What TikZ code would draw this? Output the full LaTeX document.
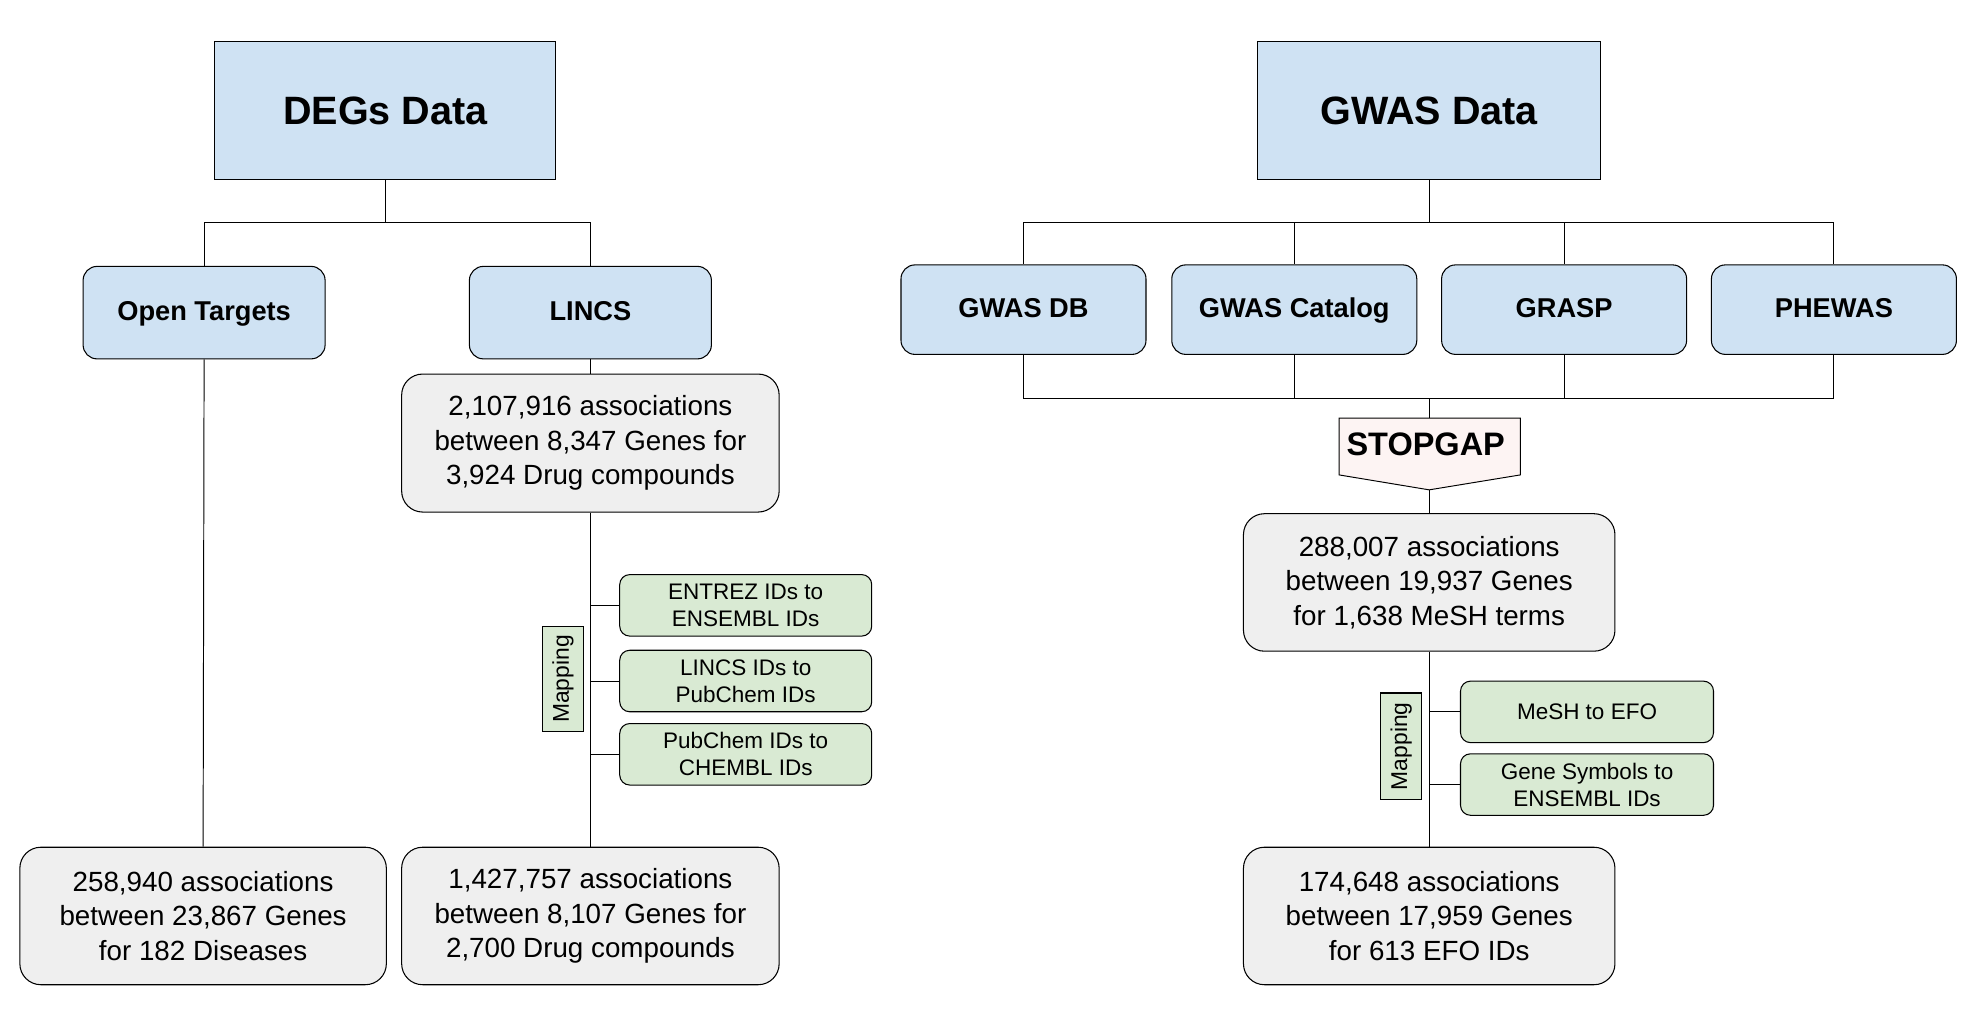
\documentclass[tikz,border=0pt]{standalone}
\usepackage{fontspec}
\setmainfont{Liberation Sans}
\usetikzlibrary{positioning}

\definecolor{azul}{HTML}{CFE2F3}
\definecolor{gris}{HTML}{EFEFEF}
\definecolor{verde}{HTML}{D9EAD3}
\definecolor{rosa}{HTML}{FDF4F3}

\tikzset{
  caja/.style={draw, line width=0.6pt, align=center, inner sep=2pt},
  titulo/.style={caja, fill=azul, font=\bfseries\fontsize{22.5}{27}\selectfont},
  fuente/.style={draw, line width=0.6pt, inner sep=2pt, fill=azul, rounded corners=0.28cm,
    text height=1.05em, text depth=0.21em, font=\bfseries\fontsize{15.5}{19}\selectfont},
  datos/.style={caja, fill=gris, rounded corners=0.42cm, font=\fontsize{15.8}{19.6}\selectfont},
  mapa/.style={caja, fill=verde, rounded corners=0.2cm, font=\fontsize{12.8}{15.3}\selectfont},
  etiqueta/.style={caja, fill=verde, rotate=90, inner sep=1pt, font=\fontsize{13}{15}\selectfont},
  linea/.style={line width=0.55pt}
}

\begin{document}
\begin{tikzpicture}[x=0.01991cm, y=-0.01992cm]
  \useasboundingbox (0,0) rectangle (39.56cm,-20.48cm);

  % Lado DEGs
  \node[titulo, minimum width=6.82cm, minimum height=2.75cm] (degs) at (387,111) {DEGs Data};
  \node[fuente, minimum width=4.84cm, minimum height=1.85cm] (ot) at (205,314) {Open Targets};
  \node[fuente, minimum width=4.84cm, minimum height=1.85cm] (lincs) at (593,314) {LINCS};
  \node[datos, minimum width=7.55cm, minimum height=2.76cm] (lincsraw) at (593,445)
    {2,107,916 associations\\between 8,347 Genes for\\3,924 Drug compounds};
  \node[mapa, minimum width=5.04cm, minimum height=1.23cm] (entrez) at (749,608) {ENTREZ IDs to\\ENSEMBL IDs};
  \node[mapa, minimum width=5.04cm, minimum height=1.23cm] (lincsid) at (749,684) {LINCS IDs to\\PubChem IDs};
  \node[mapa, minimum width=5.04cm, minimum height=1.23cm] (pubchem) at (749,757.6) {PubChem IDs to\\CHEMBL IDs};
  \node[etiqueta, minimum width=2.11cm, minimum height=0.82cm] (mapizq) at (565.5,682) {Mapping};
  \node[datos, minimum width=7.33cm, minimum height=2.75cm] (otres) at (204,920)
    {258,940 associations\\between 23,867 Genes\\for 182 Diseases};
  \node[datos, minimum width=7.55cm, minimum height=2.75cm] (lincsres) at (593,920)
    {1,427,757 associations\\between 8,107 Genes for\\2,700 Drug compounds};

  % Conexiones DEGs
  \coordinate (busdegs) at (387,223);
  \draw[linea] (degs.south) -- (busdegs);
  \draw[linea] (ot.north) -- (ot.north |- busdegs) -- (lincs.north |- busdegs) -- (lincs.north);
  \draw[linea] (ot.south) -- (otres.north);
  \draw[linea] (lincs.south) -- (lincsraw.north);
  \draw[linea] (lincsraw.south) -- (lincsres.north);
  \foreach \m in {entrez, lincsid, pubchem}
    \draw[linea] (\m.west) -- (\m.west -| lincsraw.south);

  % Lado GWAS
  \node[titulo, minimum width=6.87cm, minimum height=2.75cm] (gwas) at (1435.5,111) {GWAS Data};
  \node[fuente, minimum width=4.9cm, minimum height=1.79cm] (gwasdb) at (1028,311) {GWAS DB};
  \node[fuente, minimum width=4.9cm, minimum height=1.79cm] (catalog) at (1300,311) {GWAS Catalog};
  \node[fuente, minimum width=4.9cm, minimum height=1.79cm] (grasp) at (1571,311) {GRASP};
  \node[fuente, minimum width=4.9cm, minimum height=1.79cm] (phewas) at (1842,311) {PHEWAS};

  % STOPGAP
  \draw[linea, fill=rosa] (1345,420) -- (1527,420) -- (1527,477) -- (1435.5,492) -- (1345,477) -- cycle;
  \node[font=\bfseries\fontsize{18.5}{22}\selectfont] (stopgap) at (1432,446) {STOPGAP};
  \coordinate (puntastop) at (1435.5,492);
  \coordinate (techostop) at (1435.5,420);

  \node[datos, minimum width=7.43cm, minimum height=2.75cm] (gwasraw) at (1435.5,585)
    {288,007 associations\\between 19,937 Genes\\for 1,638 MeSH terms};
  \node[mapa, minimum width=5.06cm, minimum height=1.23cm] (mesh) at (1594,715) {MeSH to EFO};
  \node[mapa, minimum width=5.06cm, minimum height=1.23cm] (symbols) at (1594,788) {Gene Symbols to\\ENSEMBL IDs};
  \node[etiqueta, minimum width=2.13cm, minimum height=0.82cm] (mapder) at (1407.5,749.5) {Mapping};
  \node[datos, minimum width=7.43cm, minimum height=2.75cm] (gwasres) at (1435.5,920)
    {174,648 associations\\between 17,959 Genes\\for 613 EFO IDs};

  % Conexiones GWAS
  \coordinate (busarriba) at (1435.5,223);
  \coordinate (busabajo) at (1435.5,400.7);
  \draw[linea] (gwas.south) -- (busarriba);
  \draw[linea] (gwasdb.north |- busarriba) -- (phewas.north |- busarriba);
  \draw[linea] (gwasdb.south |- busabajo) -- (phewas.south |- busabajo);
  \foreach \f in {gwasdb, catalog, grasp, phewas}
    \draw[linea] (\f.north |- busarriba) -- (\f.north) (\f.south) -- (\f.south |- busabajo);
  \draw[linea] (busabajo) -- (techostop);
  \draw[linea] (puntastop) -- (gwasraw.north);
  \draw[linea] (gwasraw.south) -- (gwasres.north);
  \foreach \m in {mesh, symbols}
    \draw[linea] (\m.west) -- (\m.west -| gwasraw.south);

\end{tikzpicture}
\end{document}
